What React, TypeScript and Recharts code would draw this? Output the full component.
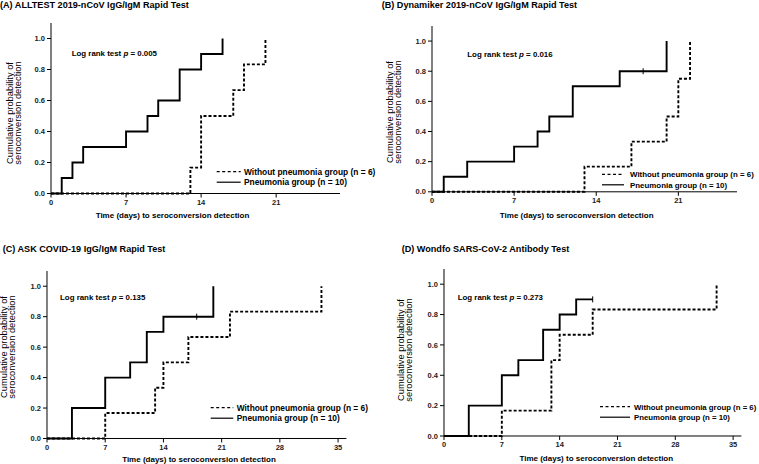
import { LineChart, Line, XAxis, YAxis } from 'recharts';

// (A) ALLTEST
const aPneuTimes = [0, 1, 2, 3, 7, 9, 10, 12, 14, 16];
const aPneuProbs = [0, 0.1, 0.2, 0.3, 0.4, 0.5, 0.6, 0.8, 0.9, 1.0];
const aNoPneuTimes = [0, 13, 14, 17, 18, 20];
const aNoPneuProbs = [0, 0.167, 0.5, 0.667, 0.833, 1.0];
const aCensored: number[] = [];

// (B) Dynamiker
const bPneuTimes = [0, 1, 3, 7, 9, 10, 12, 16, 18, 20];
const bPneuProbs = [0, 0.1, 0.2, 0.3, 0.4, 0.5, 0.7, 0.8, 0.8, 1.0];
const bNoPneuTimes = [0, 13, 17, 20, 21, 22];
const bNoPneuProbs = [0, 0.167, 0.333, 0.5, 0.75, 1.0];
const bCensored = [18];

// (C) ASK COVID-19
const cPneuTimes = [0, 3, 7, 10, 12, 14, 18, 20];
const cPneuProbs = [0, 0.2, 0.4, 0.5, 0.7, 0.8, 0.8, 1.0];
const cNoPneuTimes = [0, 7, 13, 14, 17, 22, 33];
const cNoPneuProbs = [0, 0.167, 0.333, 0.5, 0.667, 0.833, 1.0];
const cCensored = [18];

// (D) Wondfo
const dPneuTimes = [0, 3, 7, 9, 12, 14, 16, 18];
const dPneuProbs = [0, 0.2, 0.4, 0.5, 0.7, 0.8, 0.9, 0.9];
const dNoPneuTimes = [0, 7, 13, 14, 18, 33];
const dNoPneuProbs = [0, 0.167, 0.5, 0.667, 0.833, 1.0];
const dCensored = [18];

const yTicks = [0, 0.2, 0.4, 0.6, 0.8, 1.0];
const xTicksShort = [0, 7, 14, 21];
const xTicksLong = [0, 7, 14, 21, 28, 35];

const titles = [
  '(A) ALLTEST 2019-nCoV IgG/IgM Rapid Test',
  '(B) Dynamiker 2019-nCoV IgG/IgM Rapid Test',
  '(C) ASK COVID-19 IgG/IgM Rapid Test',
  '(D) Wondfo SARS-CoV-2 Antibody Test',
];
const pValues = ['0.005', '0.016', '0.135', '0.273'];

const FONT = '"Liberation Sans", Arial, sans-serif';

const toSteps = (times: number[], probs: number[], censored: number[] = []) =>
  times.map((t, i) => ({ t, p: probs[i], c: i > 0 && censored.includes(t) }));

const censorDot = (props: any) => {
  const { cx, cy, payload, index } = props;
  if (!payload || !payload.c) return <g key={index} />;
  return <line key={index} x1={cx} x2={cx} y1={cy - 3} y2={cy + 3} stroke="#000" strokeWidth={1} />;
};

interface PanelProps {
  left: number;
  top: number;
  plotW: number;
  plotH: number;
  xMax: number;
  xTicks: number[];
  pneu: any[];
  noPneu: any[];
}

const Y_AXIS_W = 30;
const X_AXIS_H = 20;

function KMPanel({ left, top, plotW, plotH, xMax, xTicks, pneu, noPneu }: PanelProps) {
  const tick = { fontSize: 7.5, fontWeight: 700, fill: '#222', fontFamily: FONT };
  return (
    <div style={{ position: 'absolute', left: left - Y_AXIS_W, top }}>
      <LineChart
        width={plotW + Y_AXIS_W}
        height={plotH + X_AXIS_H}
        margin={{ top: 0, right: 0, bottom: 0, left: 0 }}
      >
        <XAxis
          dataKey="t"
          type="number"
          domain={[0, xMax]}
          ticks={xTicks}
          height={X_AXIS_H}
          tick={tick}
          tickSize={4}
          axisLine={{ stroke: '#000', strokeWidth: 1 }}
          tickLine={{ stroke: '#000' }}
          allowDataOverflow
        />
        <YAxis
          type="number"
          domain={[0, 1.1]}
          ticks={yTicks}
          width={Y_AXIS_W}
          tick={tick}
          tickSize={4}
          tickFormatter={(v: number) => v.toFixed(1)}
          axisLine={{ stroke: '#000', strokeWidth: 1 }}
          tickLine={{ stroke: '#000' }}
        />
        <Line
          data={noPneu}
          dataKey="p"
          type="stepAfter"
          stroke="#000"
          strokeWidth={1.9}
          strokeDasharray="3 2"
          dot={false}
          isAnimationActive={false}
        />
        <Line
          data={pneu}
          dataKey="p"
          type="stepAfter"
          stroke="#000"
          strokeWidth={1.9}
          dot={censorDot}
          activeDot={false}
          isAnimationActive={false}
        />
      </LineChart>
    </div>
  );
}

interface TextPos {
  title: [number, number];
  pText: [number, number];
  legend: [number, number, number, number, number]; // sample x1, x2, text x, first row y, font size
  xLabel: [number, number];
  yLabel: [number, number, number];
}

const textPos: TextPos[] = [
  { title: [0, 7.5], pText: [71.7, 56], legend: [216.7, 240.7, 244, 171.7, 8.4], xLabel: [172.5, 218], yLabel: [13, 21, 113] },
  { title: [381.7, 8], pText: [467.3, 57], legend: [602, 624, 630, 174.3, 7.9], xLabel: [576.7, 218], yLabel: [393, 401, 112] },
  { title: [2.7, 252], pText: [60, 300], legend: [210.7, 233.3, 236.7, 407.7, 8.4], xLabel: [199, 462], yLabel: [7, 15, 347] },
  { title: [401.7, 252], pText: [457.7, 300], legend: [600, 630, 634, 406.7, 7.8], xLabel: [596.3, 461], yLabel: [404, 412, 350] },
];

function Overlay() {
  return (
    <svg
      width={759}
      height={464}
      style={{ position: 'absolute', left: 0, top: 0, pointerEvents: 'none' }}
      fontFamily={FONT}
    >
      {textPos.map((tp, i) => {
        const [sx1, sx2, tx, ry, lf] = tp.legend;
        const [y1, y2, yc] = tp.yLabel;
        return (
          <g key={i}>
            <text x={tp.title[0]} y={tp.title[1]} fontSize={9.1} fontWeight={700} fill="#000">
              {titles[i]}
            </text>
            <text x={tp.pText[0]} y={tp.pText[1]} fontSize={7.9} fontWeight={700} fill="#000">
              Log rank test <tspan fontStyle="italic">p</tspan> = {pValues[i]}
            </text>
            <line x1={sx1} x2={sx2} y1={ry} y2={ry} stroke="#000" strokeWidth={1.2} strokeDasharray="3 2.5" />
            <text x={tx} y={ry + 3} fontSize={lf} fontWeight={700} fill="#000">
              Without pneumonia group (n = 6)
            </text>
            <line x1={sx1} x2={sx2} y1={ry + 10.5} y2={ry + 10.5} stroke="#000" strokeWidth={1.2} />
            <text x={tx} y={ry + 13.5} fontSize={lf} fontWeight={700} fill="#000">
              Pneumonia group (n = 10)
            </text>
            <text x={tp.xLabel[0]} y={tp.xLabel[1]} fontSize={8} fontWeight={700} textAnchor="middle" fill="#000">
              Time (days) to seroconversion detection
            </text>
            <text x={y1} y={yc} fontSize={9.3} textAnchor="middle" fill="#000" transform={`rotate(-90 ${y1} ${yc})`}>
              Cumulative probability of
            </text>
            <text x={y2} y={yc} fontSize={9.3} textAnchor="middle" fill="#000" transform={`rotate(-90 ${y2} ${yc})`}>
              seroconversion detection
            </text>
          </g>
        );
      })}
    </svg>
  );
}

export default function App() {
  return (
    <div
      style={{
        position: 'absolute',
        left: 0,
        top: 0,
        width: 759,
        height: 464,
        background: '#fff',
        fontFamily: FONT,
        overflow: 'hidden',
      }}
    >
      <KMPanel
        left={50.5} top={22.8} plotW={289.5} plotH={170.5} xMax={27} xTicks={xTicksShort}
        pneu={toSteps(aPneuTimes, aPneuProbs, aCensored)}
        noPneu={toSteps(aNoPneuTimes, aNoPneuProbs)}
      />
      <KMPanel
        left={431.7} top={25.7} plotW={305} plotH={165.8} xMax={26} xTicks={xTicksShort}
        pneu={toSteps(bPneuTimes, bPneuProbs, bCensored)}
        noPneu={toSteps(bNoPneuTimes, bNoPneuProbs)}
      />
      <KMPanel
        left={47.3} top={270.5} plotW={299.4} plotH={167.5} xMax={36} xTicks={xTicksLong}
        pneu={toSteps(cPneuTimes, cPneuProbs, cCensored)}
        noPneu={toSteps(cNoPneuTimes, cNoPneuProbs)}
      />
      <KMPanel
        left={444.3} top={269.3} plotW={297.4} plotH={167} xMax={36} xTicks={xTicksLong}
        pneu={toSteps(dPneuTimes, dPneuProbs, dCensored)}
        noPneu={toSteps(dNoPneuTimes, dNoPneuProbs)}
      />
      <Overlay />
    </div>
  );
}
